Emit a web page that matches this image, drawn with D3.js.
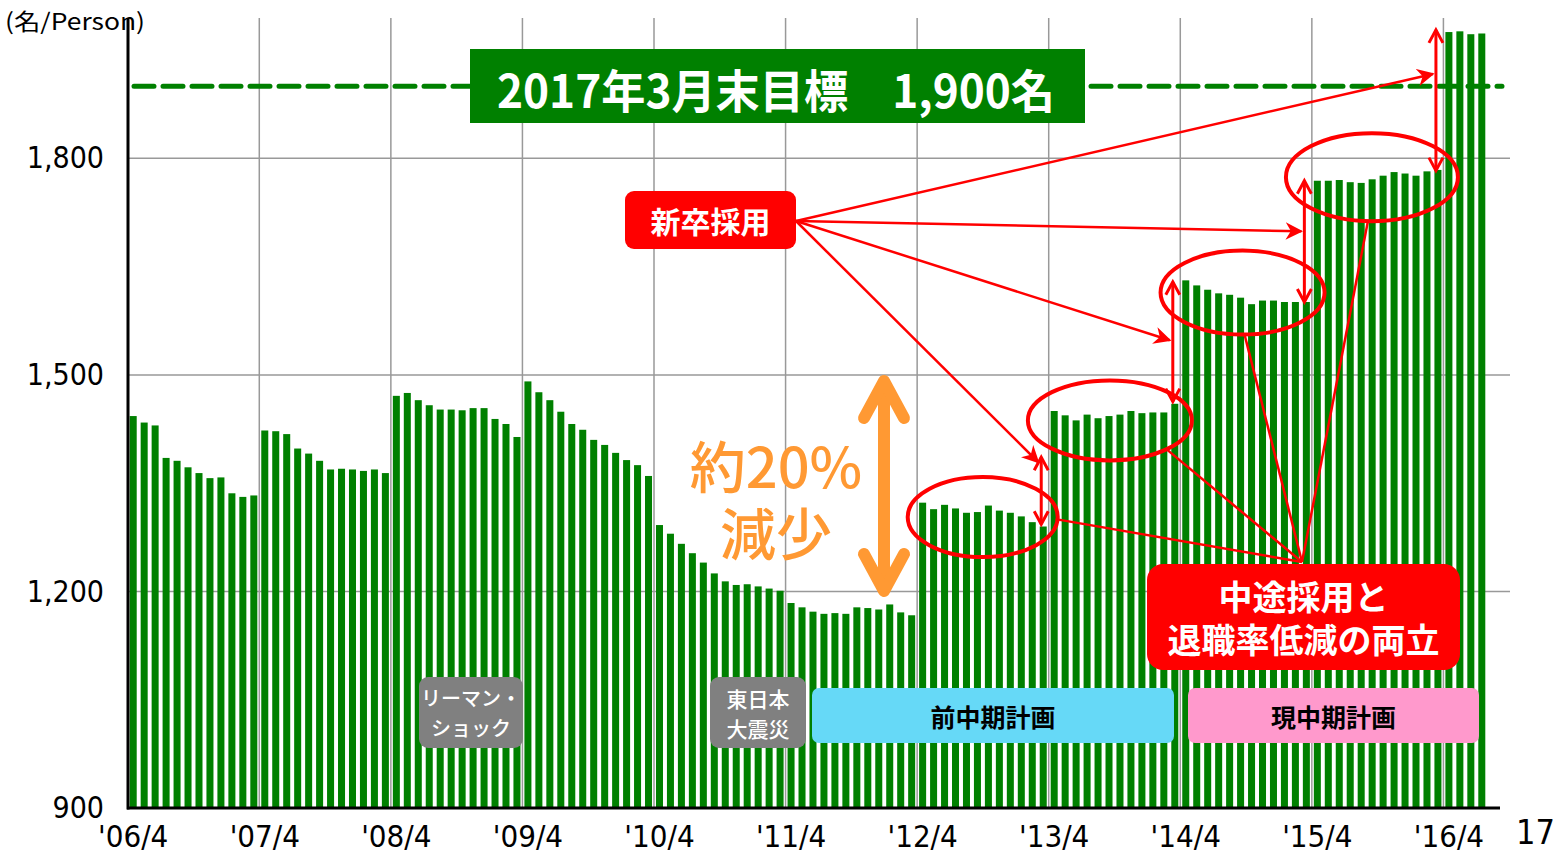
<!DOCTYPE html>
<html>
<meta charset="utf-8">
<style>
body { margin: 0; background: #fff; }
.num { font-family: "Liberation Sans Narrow", "DejaVu Sans Condensed", sans-serif; fill: #000; }
.jp { font-family: "Noto Sans CJK JP", sans-serif; }
</style>
<svg id="chart" width="1554" height="856"></svg>
<script src="https://d3js.org/d3.v7.min.js"></script>
<script>

// staff count per month, each fiscal year Apr..Mar
var fy2006 = [1443, 1434, 1430, 1385, 1381, 1372, 1364, 1357, 1358, 1336, 1331, 1333];
var fy2007 = [1423, 1422, 1418, 1398, 1391, 1381, 1369, 1370, 1369, 1367, 1369, 1364];
var fy2008 = [1471, 1475, 1465, 1458, 1452, 1452, 1451, 1454, 1454, 1439, 1432, 1414];
var fy2009 = [1491, 1476, 1465, 1449, 1432, 1424, 1410, 1403, 1392, 1382, 1375, 1360];
var fy2010 = [1292, 1280, 1266, 1253, 1240, 1225, 1214, 1209, 1210, 1207, 1204, 1201];
var fy2011 = [1184, 1178, 1172, 1169, 1170, 1169, 1178, 1177, 1175, 1182, 1171, 1167];
var fy2012 = [1323, 1314, 1320, 1315, 1309, 1310, 1319, 1312, 1309, 1304, 1296, 1290];
var fy2013 = [1450, 1444, 1437, 1445, 1440, 1443, 1445, 1450, 1447, 1448, 1448, 1460];
var fy2014 = [1631, 1624, 1618, 1613, 1611, 1607, 1598, 1603, 1603, 1601, 1601, 1601];
var fy2015 = [1769, 1769, 1770, 1767, 1766, 1771, 1776, 1781, 1779, 1776, 1782, 1784];
var fy2016 = [1975, 1976, 1972, 1973];

var xLabels = ["'06/4", "'07/4", "'08/4", "'09/4", "'10/4", "'11/4", "'12/4", "'13/4", "'14/4", "'15/4", "'16/4"];
var yTicks = [900, 1200, 1500, 1800];
var target = 1900;

// new-graduate jumps: [month index of March bar, from, to]
var jumps = [[83, 1293, 1386], [95, 1463, 1629], [107, 1601, 1769], [119, 1783, 1978]];
// retention ellipses: [month (fractional), value, rx, ry]
var rings = [[77.8, 1303, 75, 40], [89.4, 1437, 82, 40], [101.5, 1614, 82, 42], [113.3, 1774, 86, 44]];

var counts = d3.merge([fy2006, fy2007, fy2008, fy2009, fy2010, fy2011, fy2012, fy2013, fy2014, fy2015, fy2016]);

var svg = d3.select("#chart");
svg.append("rect").attr("width", 1554).attr("height", 856).attr("fill", "#fff");

var x = d3.scaleBand()
    .domain(d3.range(counts.length))
    .range([128, 1487])
    .paddingInner(0.36)
    .paddingOuter(0.155);

var y = d3.scaleLinear()
    .domain([900, 2000])
    .range([808, 14]);

var step = x.step(), bw = x.bandwidth();
function xm(m) { return x(0) + m * step; }          // fractional month -> px
function xb(i) { return x(i) - (step - bw) / 2; }  // left boundary of month i

// grid
var g = svg.append("g");
g.selectAll(".vgrid")
  .data(d3.range(12, counts.length, 12))
  .enter().append("line")
    .attr("x1", xb).attr("x2", xb)
    .attr("y1", y(2000) + 4).attr("y2", y(900))
    .attr("stroke", "#999").attr("stroke-width", 1.5);

g.selectAll(".hgrid")
  .data(yTicks.slice(1))
  .enter().append("line")
    .attr("x1", 128).attr("x2", 1510)
    .attr("y1", y).attr("y2", y)
    .attr("stroke", "#999").attr("stroke-width", 1.5);

// bars
g.selectAll(".bar")
  .data(counts)
  .enter().append("rect")
    .attr("x", function(d, i) { return x(i); })
    .attr("y", function(d) { return y(d); })
    .attr("width", bw)
    .attr("height", function(d) { return y(900) - y(d); })
    .attr("fill", "#008000");

// axes
svg.append("g")
    .attr("transform", "translate(128,0)")
    .call(d3.axisLeft(y).tickValues(yTicks).tickSize(0).tickPadding(24).tickFormat(d3.format(",")))
    .call(function(a) { a.select(".domain").remove(); })
    .selectAll("text")
      .attr("class", "num")
      .style("font-size", "30px");

svg.append("g")
    .attr("transform", "translate(0," + y(900) + ")")
    .call(d3.axisBottom(x).tickValues(d3.range(0, counts.length, 12)).tickSize(0).tickPadding(17)
      .tickFormat(function(d) { return xLabels[d / 12]; }))
    .call(function(a) { a.select(".domain").remove(); })
    .selectAll("text")
      .attr("class", "num")
      .style("font-size", "31px");

svg.append("line").attr("x1", 128).attr("x2", 128).attr("y1", y(2000) + 4).attr("y2", y(900) + 1.5)
    .attr("stroke", "#000").attr("stroke-width", 3);
svg.append("line").attr("x1", 127).attr("x2", 1500).attr("y1", y(900)).attr("y2", y(900))
    .attr("stroke", "#000").attr("stroke-width", 3);

svg.append("text").attr("class", "jp").attr("x", 5).attr("y", 30)
    .attr("textLength", 140).attr("lengthAdjust", "spacingAndGlyphs")
    .style("font-size", "23px").text("(名/Person)");
svg.append("text").attr("class", "num").attr("x", 1516).attr("y", 844)
    .style("font-size", "34px").text("17");

// target line + label
svg.append("line")
    .attr("x1", 134).attr("x2", 1502)
    .attr("y1", y(target)).attr("y2", y(target))
    .attr("stroke", "#008000").attr("stroke-width", 5)
    .attr("stroke-dasharray", "20,9").attr("stroke-linecap", "round");

svg.append("rect").attr("x", 470).attr("y", 49).attr("width", 615).attr("height", 74).attr("fill", "#008000");
svg.append("text").attr("class", "jp")
    .attr("x", 776).attr("y", 88).attr("text-anchor", "middle").attr("dominant-baseline", "central")
    .attr("fill", "#fff").style("font-size", "46px").style("font-weight", "700")
    .attr("textLength", 558).attr("lengthAdjust", "spacingAndGlyphs")
    .text("2017年3月末目標　1,900名");

// event and plan boxes
function box(x0, y0, w, h, r, fill, lines, color, size, weight, lh) {
  svg.append("rect").attr("x", x0).attr("y", y0).attr("width", w).attr("height", h)
      .attr("rx", r).attr("fill", fill);
  var t = svg.append("text").attr("class", "jp").attr("text-anchor", "middle")
      .attr("fill", color).style("font-size", size + "px").style("font-weight", weight);
  var cy = y0 + h / 2 - (lines.length - 1) * lh / 2;
  lines.forEach(function(s, i) {
    t.append("tspan").attr("x", x0 + w / 2).attr("y", cy + i * lh)
        .attr("dominant-baseline", "central").text(s);
  });
}
box(419, 677, 104, 71, 9, "#808080", ["リーマン・", "ショック"], "#fff", 20, 500, 30);
box(710, 677, 96, 71, 9, "#808080", ["東日本", "大震災"], "#fff", 21, 500, 30);
box(812, 688, 362, 55, 7, "#66d9f7", ["前中期計画"], "#000", 25, 700, 0);
box(1188, 688, 291, 55, 7, "#ff99cc", ["現中期計画"], "#000", 25, 700, 0);

// orange 20% arrow
var orange = "#ff9933";
var oa = svg.append("g").attr("stroke", orange).attr("stroke-width", 12)
    .attr("fill", "none").attr("stroke-linecap", "round").attr("stroke-linejoin", "round");
oa.append("line").attr("x1", 884).attr("x2", 884).attr("y1", 382).attr("y2", 590);
oa.append("path").attr("d", "M864,418L884,381L904,418");
oa.append("path").attr("d", "M864,554L884,591L904,554");
var ot = svg.append("text").attr("class", "jp").attr("text-anchor", "middle")
    .attr("fill", orange).style("font-size", "56px").style("font-weight", "500");
ot.append("tspan").attr("x", 776).attr("y", 463).attr("dominant-baseline", "central").text("約20%");
ot.append("tspan").attr("x", 776).attr("y", 530).attr("dominant-baseline", "central").text("減少");

// red annotations
var red = "#ff0000";
svg.append("defs").append("marker")
    .attr("id", "head").attr("viewBox", "0 0 10 10").attr("refX", 9).attr("refY", 5)
    .attr("markerWidth", 7).attr("markerHeight", 7).attr("orient", "auto")
    .attr("markerUnits", "strokeWidth")
  .append("path").attr("d", "M0,0L10,5L0,10L3,5z").attr("fill", red);

var ra = svg.append("g").attr("stroke", red).attr("fill", "none");

ra.selectAll(".ring")
  .data(rings)
  .enter().append("ellipse")
    .attr("cx", function(d) { return xm(d[0]); })
    .attr("cy", function(d) { return y(d[1]); })
    .attr("rx", function(d) { return d[2]; })
    .attr("ry", function(d) { return d[3]; })
    .attr("stroke-width", 4);

// lines from rings to the lower label
var meet = [1302, 562];
var ringOut = [[xm(rings[0][0]) + 73, y(rings[0][1]) + 2],
               [xm(rings[1][0]) + 58, y(rings[1][1]) + 30],
               [xm(rings[2][0]) + 2, y(rings[2][1]) + 42],
               [xm(rings[3][0]) - 4, y(rings[3][1]) + 44]];
ringOut.forEach(function(p) {
  ra.append("line").attr("x1", p[0]).attr("y1", p[1]).attr("x2", meet[0]).attr("y2", meet[1])
      .attr("stroke-width", 2.5);
});

// vertical double arrows
jumps.forEach(function(d) {
  var cx = x(d[0]) + bw / 2 - 2, y1 = y(d[1]), y2 = y(d[2]);
  ra.append("line").attr("x1", cx).attr("x2", cx).attr("y1", y1).attr("y2", y2).attr("stroke-width", 3);
  ra.append("path").attr("d", "M" + (cx - 7) + "," + (y2 + 13) + "L" + cx + "," + y2 + "L" + (cx + 7) + "," + (y2 + 13))
      .attr("stroke-width", 3);
  ra.append("path").attr("d", "M" + (cx - 7) + "," + (y1 - 13) + "L" + cx + "," + y1 + "L" + (cx + 7) + "," + (y1 - 13))
      .attr("stroke-width", 3);
});

// arrows from the new-graduate label
var tipVals = [1379, 1548, 1699, 1917];
jumps.forEach(function(d, i) {
  var tx = x(d[0]) + bw / 2 - 5;
  ra.append("line").attr("x1", 796).attr("y1", 221).attr("x2", tx).attr("y2", y(tipVals[i]))
      .attr("stroke-width", 2.5).attr("marker-end", "url(#head)");
});

box(625, 191, 171, 58, 9, red, ["新卒採用"], "#fff", 30, 700, 0);
box(1147, 564, 313, 106, 16, red, ["中途採用と", "退職率低減の両立"], "#fff", 34, 700, 43);

</script>
</html>
